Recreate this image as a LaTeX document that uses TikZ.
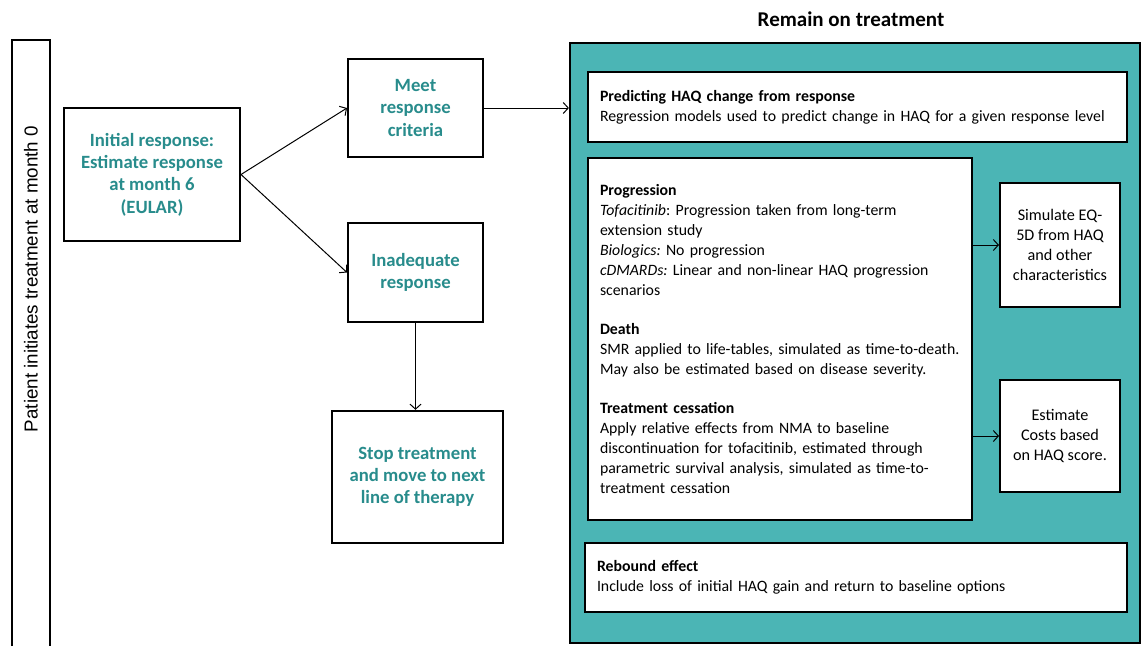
\documentclass[tikz,border=0pt]{standalone}
\usepackage{fontspec}
\setmainfont{Carlito}
\newfontfamily\arialf{Liberation Sans}
\usetikzlibrary{arrows.meta}
\definecolor{tealfill}{RGB}{75,181,181}
\definecolor{tealtext}{RGB}{40,140,140}
\frenchspacing
\begin{document}
\begin{tikzpicture}[x=1pt,y=-1pt,
  flowbox/.style={draw, line width=2pt, fill=white, align=center, inner sep=0pt,
    font=\fontsize{18.7}{22.3}\selectfont\bfseries, text=tealtext},
  infobox/.style={draw, line width=2pt, fill=white, align=left, inner ysep=0pt, inner xsep=12pt,
    font=\fontsize{15.8}{20}\selectfont},
  sidebox/.style={draw, line width=2pt, fill=white, align=center, inner sep=0pt,
    font=\fontsize{16.2}{20}\selectfont, minimum width=120pt},
  conn/.style={line width=1pt, -{Straight Barb[length=5pt,width=11pt,line width=1pt]}}]
\useasboundingbox (0,0) rectangle (1145,646);

% left frame
\node[minimum width=38pt, minimum height=606pt, inner sep=0pt] (frame) at (31,343) {};
\draw[line width=1.6pt] (frame.south west) -- (frame.north west) -- (frame.north east) -- (frame.south east);
\node[rotate=90, font=\arialf\fontsize{18.8}{20}\selectfont] (lbl) at (31,279) {Patient initiates treatment at month 0};

% flow boxes
\node[flowbox, minimum width=176pt, minimum height=133pt] (init) at (152,174.5) {Initial response:\\Estimate response\\at month 6\\(EULAR)};
\node[flowbox, minimum width=135pt, minimum height=98pt] (meet) at (415.5,108) {Meet\\response\\criteria};
\node[flowbox, minimum width=135pt, minimum height=99pt] (inad) at (415.5,272.5) {Inadequate\\response};
\node[flowbox, line width=2.4pt, minimum width=171pt, minimum height=132pt] (stop) at (417.5,477) {Stop treatment\\and move to next\\line of therapy};

% remain on treatment
\node[font=\fontsize{21}{24}\selectfont\bfseries] (title) at (851,19) {Remain on treatment};
\node[draw, line width=2.2pt, fill=tealfill, minimum width=570pt, minimum height=600pt, inner sep=0pt] (teal) at (855,343) {};

\node[infobox, text width=515pt, minimum height=70pt] (haq) at (857.5,107)
  {\textbf{Predicting HAQ change from response}\\\mbox{Regression models used to predict change in HAQ for a given response level}};

\node[infobox, text width=360pt, minimum height=362pt] (prog) at (780,339)
  {\textbf{Progression}\\
   \mbox{\textit{Tofacitinib}: Progression taken from long-term}\\
   extension study\\
   \textit{Biologics:} No progression\\
   \mbox{\textit{cDMARDs:} Linear and non-linear HAQ progression}\\
   scenarios\\[19pt]
   \textbf{Death}\\
   \mbox{SMR applied to life-tables, simulated as time-to-death.}\\
   \mbox{May also be estimated based on disease severity.}\\[19pt]
   \textbf{Treatment cessation}\\
   \mbox{Apply relative effects from NMA to baseline}\\
   \mbox{discontinuation for tofacitinib, estimated through}\\
   \mbox{parametric survival analysis, simulated as time-to-}\\
   treatment cessation};

\node[sidebox, minimum height=124pt] (eq) at (1060,245) {Simulate EQ-\\5D from HAQ\\and other\\characteristics};
\node[sidebox, minimum height=112pt] (costs) at (1060,436) {Estimate\\Costs based\\on HAQ score.};

\node[infobox, text width=518pt, minimum height=69pt] (reb) at (856,577.5)
  {\textbf{Rebound effect}\\\mbox{Include loss of initial HAQ gain and return to baseline options}};

% connectors
\draw[conn] (init.east) -- (meet.west);
\draw[conn] (init.east) -- (inad.west);
\draw[conn] (meet.east) -- (meet.east -| teal.west);
\draw[conn] (inad.south) -- (inad.south |- stop.north);
\draw[conn] (prog.east |- eq.west) -- (eq.west);
\draw[conn] (prog.east |- costs.west) -- (costs.west);
\end{tikzpicture}
\end{document}
